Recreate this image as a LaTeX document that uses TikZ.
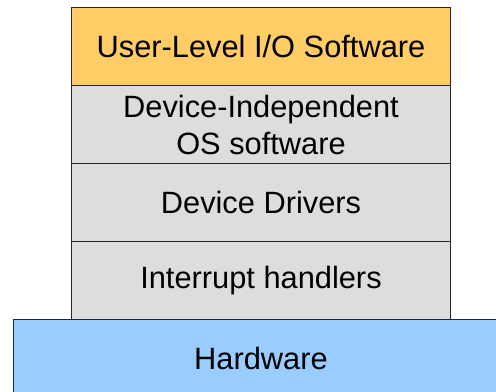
\documentclass[tikz,border=0pt]{standalone}
\usepackage{fontspec}
\setmainfont{Liberation Sans}
\usepackage{tikz}
\usetikzlibrary{positioning}

\definecolor{userorange}{HTML}{FFCC66}
\definecolor{layergray}{HTML}{DDDDDD}
\definecolor{hwblue}{HTML}{99CCFF}

\tikzset{
    layer/.style={draw=black!85,line width=1bp,rectangle,inner sep=0pt,outer sep=0pt,
        minimum width=378bp,minimum height=78bp,align=center,
        font=\fontsize{30.8bp}{37bp}\selectfont},
}

\begin{document}
\begin{tikzpicture}[x=1bp,y=-1bp]
            \clip (0,0) rectangle (496,391);
            \useasboundingbox (0,0) rectangle (496,391);
            \node[layer,fill=userorange] (user) at (261,46.5) {User-Level I/O Software};
            \node[layer,fill=layergray] (indep) at (261,124.5) {Device-Independent\\OS software};
            \node[layer,fill=layergray] (drivers) at (261,202.5) {Device Drivers};
            \node[layer,fill=layergray] (irq) at (261,280.5) {Interrupt handlers};
            \node[layer,fill=hwblue,minimum width=495bp] (hw) at (261,358.5) {Hardware};
        \end{tikzpicture}
\end{document}
